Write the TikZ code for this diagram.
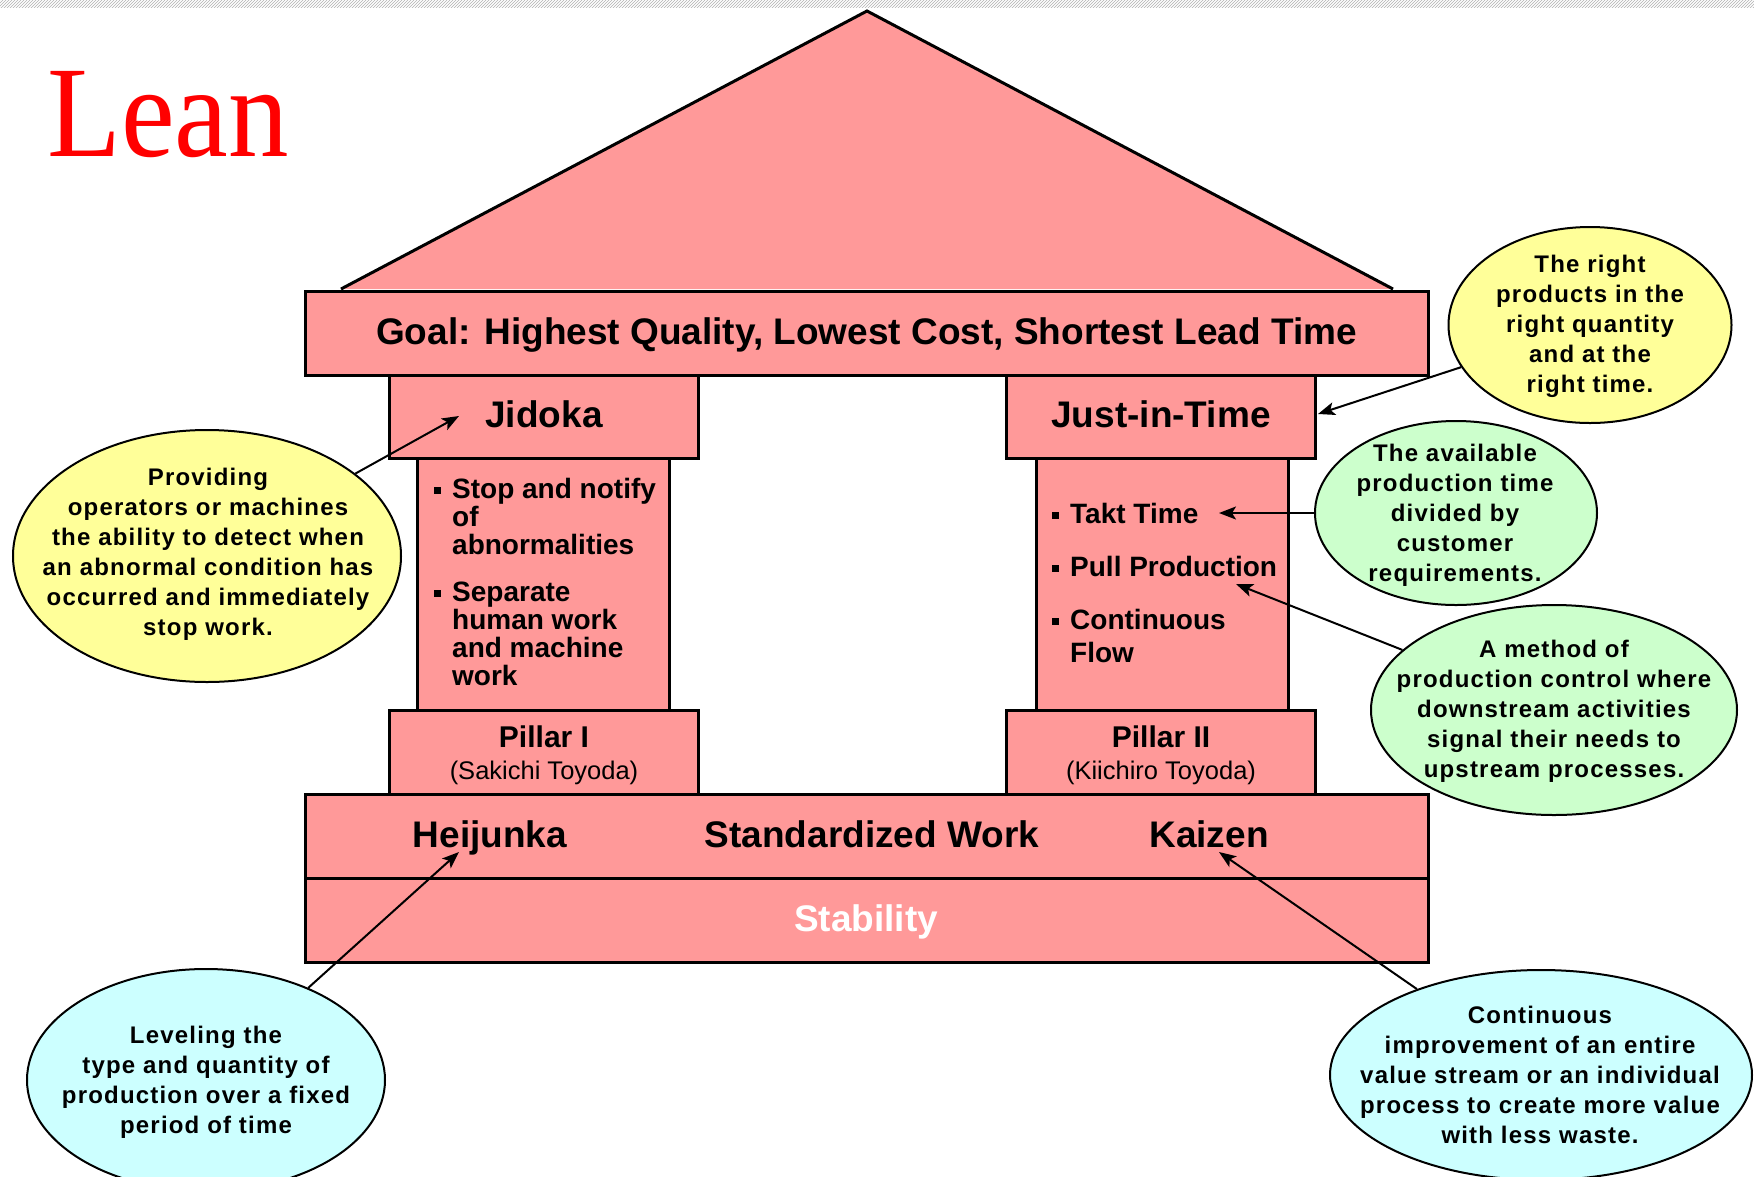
\documentclass[tikz,border=0pt]{standalone}
\usepackage{fontspec}
\setmainfont{Liberation Sans}
\newfontfamily\leanfont{Liberation Serif}
\newfontfamily\bubfont[LetterSpace=5]{Liberation Sans}
\usetikzlibrary{shapes.geometric,arrows.meta,patterns}
\definecolor{pinkf}{HTML}{FF9999}
\definecolor{yellowf}{HTML}{FFFF99}
\definecolor{greenf}{HTML}{CCFFCC}
\definecolor{cyanf}{HTML}{CCFFFF}
\begin{document}
\begin{tikzpicture}[x=1pt,y=-1pt,
  box/.style={draw=black, line width=3pt, fill=pinkf, inner sep=0pt},
  bubble/.style={ellipse, draw=black, line width=2pt, inner sep=0pt},
  bubtext/.style={inner sep=0pt, align=center, font=\bubfont\fontsize{24}{30}\selectfont\bfseries},
  big/.style={inner sep=0pt, anchor=base, font=\fontsize{37}{40}\selectfont\bfseries},
  item/.style={inner sep=0pt, anchor=base west, font=\fontsize{28}{28}\selectfont\bfseries},
  bul/.style={fill=black, minimum size=7pt, inner sep=0pt},
  pill/.style={inner sep=0pt, anchor=base, font=\fontsize{30}{30}\selectfont\bfseries},
  pers/.style={inner sep=0pt, anchor=base, font=\fontsize{25.5}{25}\selectfont},
  pointer/.style={draw=black, line width=2pt, -{Stealth[length=17pt,width=13pt,inset=4pt]}}
]
\path[use as bounding box] (0,0) rectangle (1754,1176);
\clip (0,0) rectangle (1754,1176);
\fill[white] (0,0) rectangle (1754,1176);
\fill[pattern=north east lines, pattern color=gray!60] (0,0) rectangle (1754,7);

% title
\node[anchor=base west, inner sep=0pt, text=red, xscale=0.93,
  font=\leanfont\fontsize{130}{130}\selectfont] (lean) at (47,156) {Lean};

% roof
\draw[line width=3pt, fill=pinkf, line join=miter] (341,289) -- (867,11) -- (1393,289);

% columns
\node[box, minimum width=252pt, minimum height=252pt] (col1) at (543,584) {};
\node[box, minimum width=252pt, minimum height=252pt] (col2) at (1162,584) {};

% boxes
\node[box, minimum width=1123pt, minimum height=84pt] (goal) at (866.5,333) {};
\node[box, minimum width=309pt, minimum height=83pt] (jid) at (543.5,416.5) {};
\node[box, minimum width=309pt, minimum height=83pt] (jit) at (1161,416.5) {};
\node[box, minimum width=309pt, minimum height=84pt] (p1) at (543.5,752) {};
\node[box, minimum width=309pt, minimum height=84pt] (p2) at (1161,752) {};
\node[box, minimum width=1123pt, minimum height=84pt] (base) at (866.5,836) {};
\node[box, minimum width=1123pt, minimum height=84pt] (stab) at (866.5,920) {};

% texts in boxes
\node[big] (goalt) at (866.5,344) {Goal: Highest Quality, Lowest Cost, Shortest Lead Time};
\node[big] (jidt) at (544,427) {Jidoka};
\node[big] (jitt) at (1161,427) {Just-in-Time};
\node[pill] (p1t) at (544,747) {Pillar I};
\node[pers] (p1s) at (544,779) {(Sakichi Toyoda)};
\node[pill] (p2t) at (1161,747) {Pillar II};
\node[pers] (p2s) at (1161,779) {(Kiichiro Toyoda)};
\node[big] (hei) at (490,847) {Heijunka};
\node[big] (std) at (872,847) {Standardized Work};
\node[big] (kai) at (1209,847) {Kaizen};
\node[big, text=white] (stabt) at (866,931) {Stability};

% left pillar items
\node[bul] (lb1) at (437,490) {};
\node[item] (l1) at (452,498) {Stop and notify};
\node[item] (l2) at (452,526) {of};
\node[item] (l3) at (452,554) {abnormalities};
\node[bul] (lb2) at (437,593) {};
\node[item] (l4) at (452,601) {Separate};
\node[item] (l5) at (452,629) {human work};
\node[item] (l6) at (452,657) {and machine};
\node[item] (l7) at (452,685) {work};

% right pillar items
\node[bul] (rb1) at (1055,515) {};
\node[item] (r1) at (1070,523) {Takt Time};
\node[bul] (rb2) at (1055,568) {};
\node[item] (r2) at (1070,576) {Pull Production};
\node[bul] (rb3) at (1055,621) {};
\node[item] (r3) at (1070,629) {Continuous};
\node[item] (r4) at (1070,662) {Flow};

% bubbles
\node[bubble, fill=yellowf, minimum width=388pt, minimum height=252pt] (ejid) at (207,556) {};
\node[bubble, fill=yellowf, minimum width=283pt, minimum height=196pt] (ejit) at (1590,325) {};
\node[bubble, fill=greenf, minimum width=282pt, minimum height=184pt] (etakt) at (1456,513) {};
\node[bubble, fill=greenf, minimum width=366pt, minimum height=210pt] (epull) at (1554,710) {};
\node[bubble, fill=cyanf, minimum width=358pt, minimum height=222pt] (ehei) at (206,1080) {};
\node[bubble, fill=cyanf, minimum width=422pt, minimum height=210pt] (ekai) at (1541,1075) {};

\node[bubtext] (tx1) at (208,554)
  {Providing\\operators or machines\\the ability to detect when\\an abnormal condition has\\occurred and immediately\\stop work.};
\node[bubtext] (tx2) at (1590,326)
  {The right\\products in the\\right quantity\\and at the\\right time.};
\node[bubtext] (tx3) at (1455,515)
  {The available\\production time\\divided by\\customer\\requirements.};
\node[bubtext] (tx4) at (1554,711)
  {A method of\\production control where\\downstream activities\\signal their needs to\\upstream processes.};
\node[bubtext] (tx5) at (206,1082)
  {Leveling the\\type and quantity of\\production over a fixed\\period of time};
\node[bubtext] (tx6) at (1540,1075)
  {Continuous\\improvement of an entire\\value stream or an individual\\process to create more value\\with less waste.};

% arrow targets
\coordinate (tjid) at (459,416);
\coordinate (tjit) at (1318,414);
\coordinate (ttakt) at (1219,513);
\coordinate (tpull) at (1236,584);
\coordinate (thei) at (459,852);
\coordinate (tkai) at (1219,852);

\draw[pointer] (ejid) -- (tjid);
\draw[pointer] (ejit) -- (tjit);
\draw[pointer] (etakt) -- (ttakt);
\draw[pointer] (epull) -- (tpull);
\draw[pointer] (ehei) -- (thei);
\draw[pointer] (ekai) -- (tkai);
\end{tikzpicture}
\end{document}
